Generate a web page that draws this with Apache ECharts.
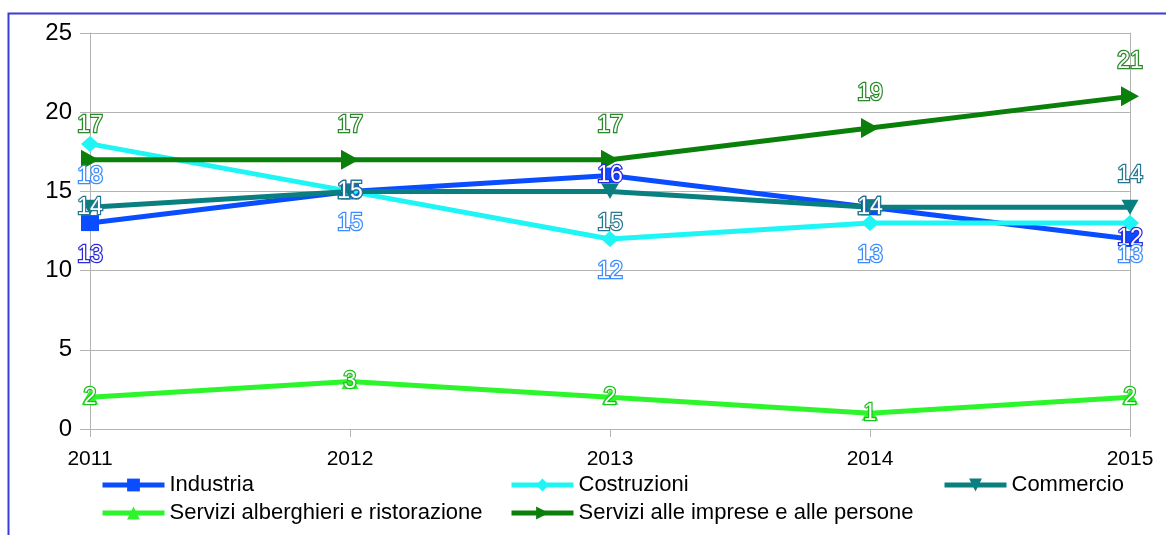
<!DOCTYPE html>
<html>
<head>
<meta charset="utf-8">
<script src="https://cdn.jsdelivr.net/npm/echarts@6/dist/echarts.min.js"></script>
<style>
html, body { margin: 0; padding: 0; background: #fff; }
#chart { width: 1166px; height: 535px; }
</style>
</head>
<body>
<div id="chart"></div>
<script>
var years = ['2011', '2012', '2013', '2014', '2015'];
var industria = [13, 15, 16, 14, 12];
var costruzioni = [18, 15, 12, 13, 13];
var commercio = [14, 15, 15, 14, 14];
var alberghieri = [2, 3, 2, 1, 2];
var imprese = [17, 17, 17, 19, 21];

// where each value label sits, per point
var posIndustria = ['bottom', 'inside', 'inside', 'inside', 'inside'];
var posCostruzioni = ['bottom', 'bottom', 'bottom', 'bottom', 'bottom'];
var posCommercio = ['inside', 'inside', 'bottom', 'inside', 'top'];
var posAlberghieri = ['inside', 'inside', 'inside', 'inside', 'inside'];
var posImprese = ['top', 'top', 'top', 'top', 'top'];

function points(values, pos){
	return values.map(function(v, i){
		return { value: v, label: { position: pos[i] } };
	});
}

function makeSeries(name, values, pos, color, labelColor, symbol, size, rotate){
	return {
		name: name,
		type: 'line',
		data: points(values, pos),
		symbol: symbol,
		symbolSize: size,
		symbolRotate: rotate,
		showAllSymbol: true,
		lineStyle: { color: color, width: 5 },
		itemStyle: { color: color },
		label: {
			show: true,
			distance: 13,
			fontFamily: 'Liberation Sans',
			fontSize: 23,
			color: '#fff',
			textBorderColor: labelColor,
			textBorderWidth: 2.5
		},
		emphasis: { disabled: true },
		z: 2
	};
}

var chart = echarts.init(document.getElementById('chart'));
var legendText = { fontFamily: 'Liberation Sans', fontSize: 22, color: '#000' };
function legendAt(name, left, top){
	return {
		data: [name], left: left, top: top,
		itemWidth: 62, itemHeight: 16, itemGap: 0,
		lineStyle: { width: 5 },
		textStyle: legendText, padding: 0
	};
}

option = {
	animation: false,
	backgroundColor: '#fff',
	graphic: [{
		type: 'rect', left: 6, top: 11,
		shape: { width: 1200, height: 600 },
		style: { fill: 'none', stroke: '#3b3bd6', lineWidth: 2 },
		silent: true
	}],
	grid: { left: 90, right: 36, top: 33, bottom: 106 },
	legend: [
		legendAt('Industria', 100, 474),
		legendAt('Costruzioni', 509, 474),
		legendAt('Commercio', 942, 474),
		legendAt('Servizi alberghieri e ristorazione', 100, 502),
		legendAt('Servizi alle imprese e alle persone', 509, 502)
	],
	xAxis: {
		type: 'category',
		data: years,
		boundaryGap: false,
		axisLine: { lineStyle: { color: '#b3b3b3', width: 1 } },
		axisTick: { show: true, length: 8, lineStyle: { color: '#b3b3b3' } },
		axisLabel: { fontFamily: 'Liberation Sans', fontSize: 21, color: '#000', margin: 20 },
		splitLine: { show: false }
	},
	yAxis: [{
		type: 'value',
		min: 0, max: 25, interval: 5,
		axisLine: { show: true, lineStyle: { color: '#b3b3b3', width: 1 } },
		axisTick: { show: true, length: 10, lineStyle: { color: '#b3b3b3' } },
		axisLabel: { fontFamily: 'Liberation Sans', fontSize: 24, color: '#000', margin: 18 },
		splitLine: { lineStyle: { color: '#b3b3b3', width: 1 } }
	}, {
		type: 'value',
		position: 'right',
		min: 0, max: 25, interval: 5,
		axisLine: { show: true, lineStyle: { color: '#b3b3b3', width: 1 } },
		axisTick: { show: false },
		axisLabel: { show: false },
		splitLine: { show: false }
	}],
	series: [
		makeSeries('Industria', industria, posIndustria, '#0a4cff', '#2a2ae0', 'rect', [18, 16], 0),
		makeSeries('Costruzioni', costruzioni, posCostruzioni, '#1ff5f5', '#3a8cff', 'diamond', [18, 16], 0),
		makeSeries('Commercio', commercio, posCommercio, '#0a7f7f', '#257890', 'triangle', [17, 15], 180),
		makeSeries('Servizi alberghieri e ristorazione', alberghieri, posAlberghieri, '#2cf52c', '#1fbf1f', 'triangle', [17, 15], 0),
		makeSeries('Servizi alle imprese e alle persone', imprese, posImprese, '#0a800a', '#2a8a2a', 'triangle', [20, 18], -90)
	]
};
chart.setOption(option);
</script>
</body>
</html>
